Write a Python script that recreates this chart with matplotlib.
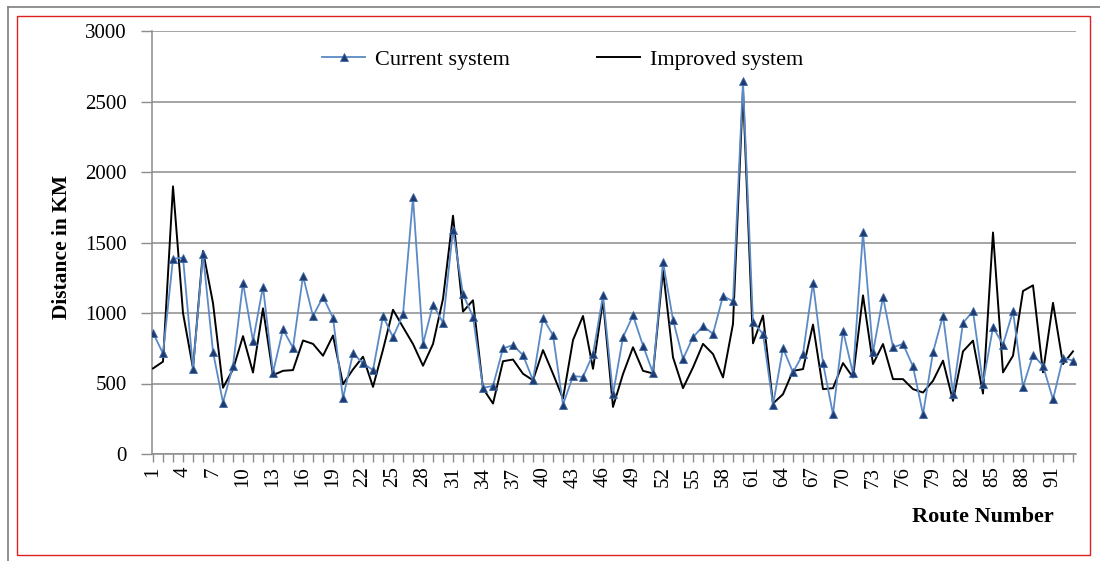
import matplotlib
matplotlib.use("Agg")
import matplotlib.pyplot as plt
from matplotlib.lines import Line2D
from matplotlib.patches import Rectangle

routes = list(range(1, 94))
current_system = [860, 713, 1384, 1393, 606, 1417, 725, 365, 625, 1215,
                  801, 1187, 578, 884, 753, 1263, 978, 1114, 966, 395,
                  714, 643, 595, 978, 828, 990, 1820, 781, 1059, 931,
                  1590, 1133, 974, 469, 483, 749, 772, 701, 523, 962,
                  843, 350, 552, 547, 708, 1125, 424, 828, 983, 769,
                  574, 1363, 952, 674, 828, 907, 852, 1121, 1083, 2643,
                  935, 852, 348, 750, 579, 709, 1215, 645, 282, 875,
                  571, 1571, 721, 1113, 757, 780, 621, 282, 721, 982,
                  429, 930, 1013, 500, 899, 776, 1013, 476, 702, 626,
                  387, 683, 662]
improved_system = [607, 655, 1898, 1000, 608, 1440, 1070, 470, 600, 836,
                   578, 1033, 559, 590, 595, 805, 781, 697, 840, 495,
                   600, 690, 476, 740, 1023, 900, 780, 626, 780, 1100,
                   1690, 1010, 1090, 465, 358, 658, 670, 569, 523, 737,
                   569, 393, 808, 979, 604, 1090, 334, 567, 757, 590,
                   571, 1304, 686, 467, 614, 781, 709, 543, 923, 2580,
                   785, 982, 358, 424, 590, 602, 918, 460, 467, 645,
                   543, 1125, 638, 780, 531, 531, 460, 436, 519, 662,
                   377, 728, 804, 429, 1571, 579, 697, 1156, 1196, 579,
                   1072, 638, 728]
x_tick_labels = list(range(1, 94, 3))
y_ticks = [0, 500, 1000, 1500, 2000, 2500, 3000]

plt.rcParams['font.family'] = ['Liberation Serif', 'DejaVu Serif']

W, H = 1100, 561
fig = plt.figure(figsize=(W / 100, H / 100), dpi=100)
fig.patch.set_facecolor('white')

# borders
fig.add_artist(Line2D([8 / W, 1.0], [1 - 7 / H, 1 - 7 / H], transform=fig.transFigure,
                      color='#7f7f7f', lw=1.2))
fig.add_artist(Line2D([8 / W, 8 / W], [0, 1 - 7 / H], transform=fig.transFigure,
                      color='#7f7f7f', lw=1.2))
fig.add_artist(Rectangle((17 / W, 1 - 555 / H), (1090 - 17) / W, (555 - 16) / H,
                         transform=fig.transFigure, fill=False, edgecolor='#e02020', lw=1.0))

ax = fig.add_axes([152 / W, 1 - 454 / H, (1076 - 152) / W, (454 - 31) / H])
ax.set_xlim(0.9, 93.3)
ax.set_ylim(0, 3000)

ax.plot(routes, improved_system, color='black', lw=1.4, label='Improved system', zorder=3)
ax.plot(routes, current_system, color='#5b8ac6', lw=1.3, marker='^', markersize=5.5,
        markerfacecolor='#1f3a6e', markeredgecolor='#3c6aa8', markeredgewidth=0.6,
        label='Current system', zorder=4)

ax.set_yticks(y_ticks)
ax.set_yticklabels([str(v) for v in y_ticks], fontsize=15)
ax.yaxis.grid(True, color='#8c8c8c', lw=1.1)
ax.set_axisbelow(True)

ax.set_xticks(x_tick_labels)
ax.set_xticklabels([str(v) for v in x_tick_labels], rotation=90, fontsize=15)
ax.set_xticks(routes, minor=True)
ax.tick_params(axis='x', which='both', length=6, width=1, color='#8c8c8c', direction='out', pad=3)
ax.tick_params(axis='y', length=8, width=1, color='#8c8c8c', direction='out', pad=10)

for side in ['top', 'right']:
    ax.spines[side].set_visible(False)
for side in ['left', 'bottom']:
    ax.spines[side].set_color('#8c8c8c')
    ax.spines[side].set_linewidth(1.1)

fig.text(62 / W, 1 - 247 / H, 'Distance in KM', rotation=90, ha='center', va='center',
         fontsize=15.5, fontweight='bold')
fig.text(983 / W, 1 - 517 / H, 'Route Number', ha='center', va='center',
         fontsize=16, fontweight='bold')

handles, labels = ax.get_legend_handles_labels()
leg = ax.legend(handles[::-1], labels[::-1], ncol=2, frameon=False, loc='center left',
                bbox_to_anchor=(322 / W, 1 - 60 / H), bbox_transform=fig.transFigure,
                fontsize=16, handlelength=1.95, handletextpad=0.45, columnspacing=3.9,
                borderpad=0, borderaxespad=0)

fig.savefig('out.png', dpi=100)
